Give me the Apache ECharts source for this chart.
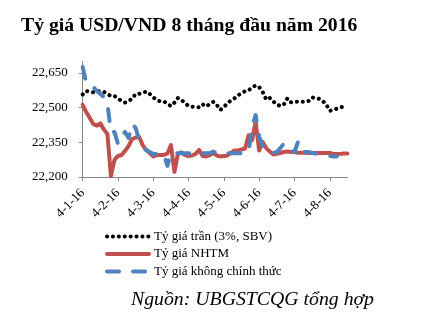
<!DOCTYPE html>
<html>
<head>
<meta charset="utf-8">
<script src="https://cdn.jsdelivr.net/npm/echarts@6/dist/echarts.min.js"></script>
<style>html,body{margin:0;padding:0;background:#fff;}#c{width:440px;height:327px;}</style>
</head>
<body>
<div id="c"></div>
<script>
var titleText = 'Tỷ giá USD/VND 8 tháng đầu năm 2016';
var sourceText = 'Nguồn: UBGSTCQG tổng hợp';
var seriesNames = ['Tỷ giá trần (3%, SBV)', 'Tỷ giá NHTM', 'Tỷ giá không chính thức'];
var yTicks = [22200, 22350, 22500, 22650];

var dates = [
  '4-1-16','7-1-16','10-1-16','13-1-16','16-1-16','19-1-16','22-1-16','25-1-16','28-1-16','31-1-16',
  '4-2-16','7-2-16','10-2-16','13-2-16','16-2-16','19-2-16','22-2-16','24-2-16','26-2-16','29-2-16',
  '4-3-16','7-3-16','10-3-16','13-3-16','16-3-16','19-3-16','22-3-16','25-3-16','28-3-16','31-3-16',
  '4-4-16','7-4-16','10-4-16','13-4-16','16-4-16','19-4-16','22-4-16','25-4-16','28-4-16','30-4-16',
  '4-5-16','7-5-16','10-5-16','13-5-16','16-5-16','19-5-16','22-5-16','25-5-16','28-5-16','31-5-16',
  '4-6-16','7-6-16','10-6-16','13-6-16','16-6-16','19-6-16','22-6-16','25-6-16','28-6-16','30-6-16',
  '4-7-16','7-7-16','10-7-16','13-7-16','16-7-16','19-7-16','22-7-16','25-7-16','28-7-16','31-7-16',
  '4-8-16','7-8-16','10-8-16','13-8-16','16-8-16','19-8-16'
];

var ceilingRate = [
  22557,22572,22569,22566,22570,22572,22568,22559,22550,22550,
  22540,22529,22522,22529,22538,22559,22560,22563,22570,22559,
  22544,22533,22527,22527,22516,22507,22522,22542,22533,22520,
  22507,22504,22502,22501,22514,22505,22516,22525,22512,22490,
  22503,22518,22531,22540,22553,22563,22571,22575,22587,22596,
  22589,22568,22535,22542,22527,22514,22507,22514,22540,22523,
  22525,22526,22525,22525,22529,22544,22541,22538,22529,22514,
  22486,22490,22496,22501,22505,null
];

var bankRate = [
  22512,22481,22455,22429,22422,22432,22406,22386,22204,22274,
  22291,22295,22313,22334,22364,22371,22373,22338,22317,22304,
  22289,22295,22295,22295,22302,22338,22222,22302,22306,22295,
  22291,22293,22300,22317,22291,22289,22295,22304,22293,22289,
  22291,22293,22304,22315,22315,22319,22323,22380,22360,22438,
  22315,22351,22325,22310,22297,22300,22304,22308,22310,22308,
  22308,22305,22305,22305,22304,22304,22304,22304,22304,22304,
  22304,22300,22300,22300,22302,22302
];

var freeRate = [
  22676,22607,22598,22589,22572,22559,22546,22516,22395,22395,
  22343,22377,22395,22369,22429,22412,22360,22325,22317,22308,
  22300,22300,22300,22300,22248,22304,22304,22303,22303,22303,
  22303,22303,22303,22303,22303,22303,22303,22310,22303,22303,
  22303,22303,22303,22303,22303,22303,22303,22308,22421,22468,
  22373,22334,22325,22308,22304,22308,22325,22345,22334,22313,
  22308,22351,22308,22308,22308,22304,22302,22300,22295,22293,
  22291,22289,22289,null,null,null
];

var serif = "'Times New Roman','Liberation Serif',serif";
var chart = echarts.init(document.getElementById('c'), null, {renderer: 'canvas'});
chart.setOption({
  animation: false,
  backgroundColor: '#ffffff',
  title: [
    {text: titleText, left: 21, top: 16, padding: 0,
     textStyle: {fontFamily: serif, fontSize: 19.7, fontWeight: 'bold', color: '#000'}},
    {text: sourceText, left: 131, top: 290, padding: 0,
     textStyle: {fontFamily: serif, fontSize: 19.8, fontWeight: 'normal', fontStyle: 'italic', color: '#000'}}
  ],
  legend: {
    orient: 'vertical', left: 105, top: 230, padding: 0,
    itemWidth: 42, itemHeight: 14, itemGap: 4.5,
    data: seriesNames,
    itemStyle: {opacity: 0, borderWidth: 0},
    lineStyle: {width: 4},
    textStyle: {fontFamily: serif, fontSize: 13, color: '#000'}
  },
  grid: {left: 82.7, right: 92.6, top: 61.4, bottom: 150, containLabel: false},
  xAxis: {
    type: 'category', data: dates, boundaryGap: false,
    axisLine: {lineStyle: {color: '#868686', width: 1}},
    axisTick: {interval: 9, length: 4, lineStyle: {color: '#868686'}},
    axisLabel: {interval: 9, rotate: 45, margin: 14, fontFamily: serif, fontSize: 13, color: '#000'},
    splitLine: {show: false}
  },
  yAxis: {
    type: 'value', min: 22200, max: 22700,
    axisLine: {show: true, lineStyle: {color: '#868686', width: 1}},
    axisTick: {show: true, length: 4, customValues: yTicks, lineStyle: {color: '#868686'}},
    axisLabel: {customValues: yTicks, margin: 15, fontFamily: serif, fontSize: 13, color: '#000',
      formatter: function (v) { return v.toLocaleString('en-US'); }},
    splitLine: {show: false}
  },
  series: [
    {name: seriesNames[0], type: 'line', data: ceilingRate, symbol: 'none', showSymbol: false,
     lineStyle: {color: '#000000', width: 4, type: [0.1, 5.8], cap: 'round'},
     itemStyle: {color: '#000000'}},
    {name: seriesNames[1], type: 'line', data: bankRate, symbol: 'none', showSymbol: false,
     lineStyle: {color: '#C0504D', width: 4, cap: 'round', join: 'round'},
     itemStyle: {color: '#C0504D'}},
    {name: seriesNames[2], type: 'line', data: freeRate, symbol: 'none', showSymbol: false,
     lineStyle: {color: '#4F81BD', width: 4, type: [12, 14], cap: 'round', join: 'round'},
     itemStyle: {color: '#4F81BD'}}
  ]
});
</script>
</body>
</html>
